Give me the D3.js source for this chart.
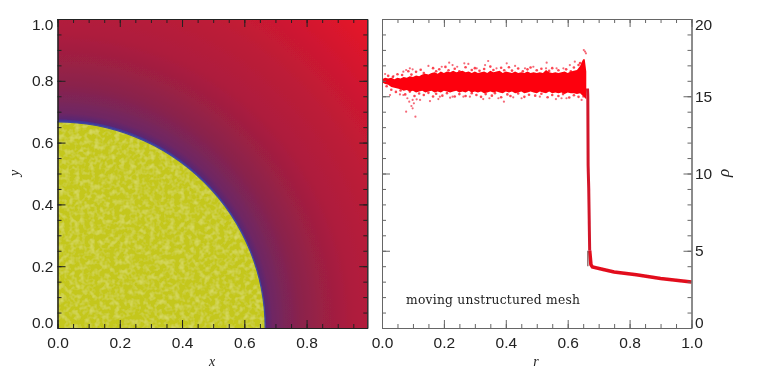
<!DOCTYPE html>
<html>
<head>
<meta charset="utf-8">
<script src="https://cdn.jsdelivr.net/npm/d3@7"></script>
<style>
  html, body { margin: 0; background: #fff; }
  svg { display: block; }
  text { font-family: 'Liberation Sans', sans-serif; fill: #222; }
  .serif { font-family: 'Liberation Serif', serif; }
</style>
</head>
<body>
<div id="chart"></div>
<script>
// density map: colour by radius
const shockRadius = 0.667
const mapRadius = [0.667, 0.671, 0.69, 0.73, 0.78, 0.85, 0.95, 1.1, 1.3, 1.41]
const mapColor = ['#40389a', '#5a2672', '#6e2664', '#7b2558', '#8a234c', '#9a2044', '#ae1d3d', '#bd1b37', '#d8172d', '#e8142a']

// dense part of the scatter
const bandR = [0, 0.01, 0.02, 0.03, 0.04, 0.05, 0.06, 0.07, 0.08, 0.09, 0.1, 0.11, 0.12, 0.13, 0.14, 0.15, 0.16, 0.17, 0.18, 0.19, 0.2, 0.21, 0.22, 0.23, 0.24, 0.25, 0.26, 0.27, 0.28, 0.29, 0.3, 0.31, 0.32, 0.33, 0.34, 0.35, 0.36, 0.37, 0.38, 0.39, 0.4, 0.41, 0.42, 0.43, 0.44, 0.45, 0.46, 0.47, 0.48, 0.49, 0.5, 0.51, 0.52, 0.53, 0.54, 0.55, 0.56, 0.57, 0.58, 0.59, 0.6, 0.61, 0.62, 0.63, 0.64, 0.645, 0.65, 0.655, 0.66]
const bandTop = [16.1, 16.2, 16.15, 16.2, 16.1, 16.2, 16.15, 16.25, 16.2, 16.3, 16.25, 16.35, 16.3, 16.4, 16.45, 16.4, 16.5, 16.55, 16.45, 16.6, 16.5, 16.6, 16.55, 16.65, 16.55, 16.6, 16.65, 16.55, 16.6, 16.5, 16.6, 16.5, 16.55, 16.6, 16.5, 16.65, 16.55, 16.6, 16.65, 16.5, 16.6, 16.55, 16.5, 16.6, 16.5, 16.55, 16.5, 16.6, 16.5, 16.55, 16.5, 16.55, 16.5, 16.7, 16.55, 16.5, 16.55, 16.5, 16.55, 16.6, 16.5, 16.6, 16.65, 16.7, 16.95, 17.2, 17.4, 17.4, 16.6]
const bandBottom = [15.9, 15.8, 15.75, 15.6, 15.55, 15.5, 15.45, 15.35, 15.4, 15.3, 15.35, 15.25, 15.3, 15.35, 15.25, 15.3, 15.35, 15.25, 15.3, 15.25, 15.35, 15.3, 15.25, 15.3, 15.35, 15.25, 15.3, 15.25, 15.35, 15.25, 15.3, 15.25, 15.3, 15.2, 15.25, 15.3, 15.25, 15.3, 15.25, 15.2, 15.3, 15.25, 15.3, 15.2, 15.25, 15.3, 15.2, 15.25, 15.3, 15.25, 15.2, 15.3, 15.25, 15.2, 15.3, 15.2, 15.25, 15.2, 15.25, 15.15, 15.25, 15.2, 15.2, 15.15, 15.2, 15.1, 15.0, 14.9, 14.8]

// single points along the edges of the band
const edgeR = [0.02, 0.035, 0.05, 0.065, 0.085, 0.095, 0.11, 0.125, 0.135, 0.165, 0.175, 0.185, 0.205, 0.215, 0.235, 0.25, 0.27, 0.29, 0.3, 0.315, 0.33, 0.35, 0.36, 0.385, 0.395, 0.41, 0.42, 0.44, 0.455, 0.47, 0.48, 0.5, 0.515, 0.54, 0.55, 0.57, 0.595, 0.61, 0.62, 0.635, 0.64, 0.015, 0.03, 0.045, 0.06, 0.075, 0.09, 0.105, 0.12, 0.135, 0.15, 0.165, 0.175, 0.195, 0.21, 0.235, 0.25, 0.27, 0.29, 0.305, 0.32, 0.335, 0.355, 0.365, 0.385, 0.405, 0.415, 0.44, 0.46, 0.475, 0.495, 0.515, 0.535, 0.55, 0.57, 0.585, 0.605, 0.62, 0.635]
const edgeRho = [16.32, 16.25, 16.42, 16.38, 16.62, 16.4, 16.58, 16.72, 16.5, 16.82, 16.62, 16.75, 16.9, 16.68, 16.78, 16.62, 16.88, 16.7, 16.82, 16.65, 16.76, 16.92, 16.7, 16.84, 16.68, 16.88, 16.66, 16.8, 16.62, 16.74, 16.86, 16.68, 16.78, 16.64, 16.82, 16.68, 16.74, 16.62, 16.86, 17.02, 17.15, 15.65, 15.42, 15.28, 15.38, 15.12, 15.3, 15.02, 15.18, 15.08, 15.22, 14.98, 15.16, 15.04, 15.2, 14.98, 15.14, 15.02, 15.2, 15.08, 14.96, 15.14, 15.04, 15.2, 14.94, 15.12, 15.02, 15.18, 14.96, 15.1, 15.04, 15.16, 14.94, 15.08, 15.02, 15.14, 14.92, 15.06, 14.96]

// loose points further out
const looseR = [0.078, 0.108, 0.099, 0.095, 0.103, 0.088, 0.099, 0.112, 0.082, 0.123, 0.069, 0.026, 0.058, 0.155, 0.182, 0.22, 0.228, 0.327, 0.347, 0.394, 0.376, 0.424, 0.451, 0.51, 0.562, 0.58, 0.596, 0.645, 0.65, 0.284, 0.263, 0.187, 0.656, 0.652, 0.659, 0.15, 0.193, 0.217, 0.228, 0.266, 0.279, 0.243, 0.343, 0.333, 0.403, 0.43, 0.462, 0.489, 0.532, 0.53, 0.607, 0.623, 0.09, 0.078, 0.099, 0.069, 0.01, 0.037, 0.306, 0.37, 0.564, 0.586]
const looseRho = [14.0, 13.68, 14.22, 14.37, 14.54, 14.65, 14.76, 14.8, 14.87, 14.76, 15.08, 15.08, 15.12, 14.69, 14.82, 14.91, 14.97, 14.82, 14.87, 14.65, 14.87, 14.93, 14.87, 14.97, 14.82, 14.87, 14.87, 14.76, 14.97, 14.97, 14.97, 14.97, 17.89, 17.99, 17.78, 16.96, 16.91, 17.17, 17.02, 17.13, 17.09, 16.91, 17.28, 17.02, 17.13, 16.96, 16.81, 16.91, 17.17, 16.81, 17.02, 17.24, 16.81, 16.7, 16.74, 16.59, 16.44, 16.31, 16.81, 16.81, 16.81, 16.81]

// the shock and the shell behind it
const shockR = [0.664, 0.665, 0.666, 0.668, 0.671]
const shockRho = [15.5, 15, 10.5, 9, 5]
const shellR = [0.671, 0.675, 0.68, 0.715, 0.75, 0.822, 0.9, 1.0]
const shellRho = [5, 4.1, 3.95, 3.78, 3.62, 3.45, 3.2, 2.98]

const exactR = [0.665, 0.665]
const exactRho = [5, 4]

const mapTicks = [0, 0.2, 0.4, 0.6, 0.8, 1]
const mapMinor = d3.range(0, 21).map(d => d / 20)
const rhoTicks = [0, 5, 10, 15, 20]
const rhoMinor = d3.range(0, 21)

const svg = d3
  .select('#chart')
  .append('svg')
  .attr('width', 771)
  .attr('height', 386)

const defs = svg.append('defs')

const soft = defs.append('filter').attr('id', 'soft')
soft.append('feGaussianBlur').attr('stdDeviation', 0.4)

// mottled look of the yellow interior
const mottle = defs
  .append('filter')
  .attr('id', 'mottle')
  .attr('x', 0)
  .attr('y', 0)
  .attr('width', 1)
  .attr('height', 1)
mottle
  .append('feTurbulence')
  .attr('type', 'fractalNoise')
  .attr('baseFrequency', 0.2)
  .attr('numOctaves', 2)
  .attr('seed', 4)
  .attr('result', 'noise')
mottle
  .append('feColorMatrix')
  .attr('in', 'noise')
  .attr('type', 'matrix')
  .attr('values', '0 0 0 0 0.83  0 0 0 0 0.84  0 0 0 0 0.26  1.0 0 0 0 -0.42')
  .attr('result', 'spots')
mottle
  .append('feComposite')
  .attr('in', 'spots')
  .attr('in2', 'SourceAlpha')
  .attr('operator', 'in')
  .attr('result', 'clipped')
const mottleMerge = mottle.append('feMerge')
mottleMerge.append('feMergeNode').attr('in', 'SourceGraphic')
mottleMerge.append('feMergeNode').attr('in', 'clipped')

const chart = svg.append('g').attr('filter', 'url(#soft)')

// ---- left panel
const x = d3.scaleLinear().domain([0, 0.995]).range([57.5, 367.3])
const y = d3.scaleLinear().domain([0, 1]).range([328, 19])

const gradient = defs
  .append('radialGradient')
  .attr('id', 'density')
  .attr('gradientUnits', 'userSpaceOnUse')
  .attr('cx', x(0))
  .attr('cy', y(0))
  .attr('r', x(1.41) - x(0))

gradient
  .selectAll('stop')
  .data(mapRadius)
  .enter()
  .append('stop')
  .attr('offset', d => d / 1.41)
  .attr('stop-color', (d, i) => mapColor[i])

defs
  .append('clipPath')
  .attr('id', 'mapClip')
  .append('rect')
  .attr('x', x(0))
  .attr('y', y(1))
  .attr('width', x(0.995) - x(0))
  .attr('height', y(0) - y(1))

const map = chart.append('g').attr('clip-path', 'url(#mapClip)')

map
  .append('rect')
  .attr('x', x(0))
  .attr('y', y(1))
  .attr('width', x(0.995) - x(0))
  .attr('height', y(0) - y(1))
  .attr('fill', 'url(#density)')

map
  .append('ellipse')
  .attr('cx', x(0))
  .attr('cy', y(0))
  .attr('rx', x(shockRadius) - x(0))
  .attr('ry', y(0) - y(shockRadius))
  .attr('fill', '#c4c71f')
  .attr('filter', 'url(#mottle)')

map
  .append('ellipse')
  .attr('cx', x(0))
  .attr('cy', y(0))
  .attr('rx', x(shockRadius) - x(0))
  .attr('ry', y(0) - y(shockRadius))
  .attr('fill', 'none')
  .attr('stroke', '#4048a0')
  .attr('stroke-width', 1.2)

// ---- right panel
const r = d3.scaleLinear().domain([0, 1]).range([382, 691.5])
const rho = d3.scaleLinear().domain([0, 20]).range([328, 19])

const band = d3
  .area()
  .x(d => r(d))
  .y0((d, i) => rho(bandBottom[i]))
  .y1((d, i) => rho(bandTop[i]))

const pathLine = d3
  .line()
  .x(d => r(d[0]))
  .y(d => rho(d[1]))

chart
  .selectAll('.loose')
  .data(d3.zip(looseR, looseRho))
  .enter()
  .append('circle')
  .attr('class', 'loose')
  .attr('cx', d => r(d[0]))
  .attr('cy', d => rho(d[1]))
  .attr('r', 1.1)
  .attr('fill', '#f2374a')
  .attr('opacity', 0.75)

chart
  .selectAll('.edge')
  .data(d3.zip(edgeR, edgeRho))
  .enter()
  .append('circle')
  .attr('class', 'edge')
  .attr('cx', d => r(d[0]))
  .attr('cy', d => rho(d[1]))
  .attr('r', 1.3)
  .attr('fill', '#fb1828')
  .attr('opacity', 0.8)

chart
  .append('path')
  .datum(bandR)
  .attr('d', band)
  .attr('fill', '#fd0208')

chart
  .append('path')
  .datum(d3.zip(shockR, shockRho))
  .attr('d', pathLine)
  .attr('fill', 'none')
  .attr('stroke', '#d2162a')
  .attr('stroke-width', 3)

chart
  .append('path')
  .datum(d3.zip(shellR, shellRho))
  .attr('d', pathLine)
  .attr('fill', 'none')
  .attr('stroke', '#e20c1c')
  .attr('stroke-width', 3.6)

chart
  .append('path')
  .datum(d3.zip(exactR, exactRho))
  .attr('d', pathLine)
  .attr('fill', 'none')
  .attr('stroke', '#8a6a6a')
  .attr('stroke-width', 1.4)

// ---- frames and ticks
function addAxis(panel, axis, scale, at, values, size, color) {
  const g = panel
    .append('g')
    .attr('transform', at)
    .call(
      axis(scale)
        .tickValues(values)
        .tickSize(size)
        .tickSizeOuter(0)
        .tickFormat('')
    )
  g.select('.domain').attr('stroke', color)
  g.selectAll('.tick line').attr('stroke', color)
  return g
}

function addFrame(panel, xs, ys, xMajor, xMinor, yMajor, yMinor, color) {
  const left = 'translate(' + xs.range()[0] + ',0)'
  const right = 'translate(' + xs.range()[1] + ',0)'
  const top = 'translate(0,' + ys.range()[1] + ')'
  const bottom = 'translate(0,' + ys.range()[0] + ')'
  const xIn = xMinor.filter(d => d <= xs.domain()[1])
  const xOn = xMajor.filter(d => d <= xs.domain()[1])

  addAxis(panel, d3.axisBottom, xs, top, xIn, 4, color)
  addAxis(panel, d3.axisBottom, xs, top, xOn, 8, color)
  addAxis(panel, d3.axisTop, xs, bottom, xIn, 4, color)
  addAxis(panel, d3.axisTop, xs, bottom, xOn, 8, color)
  addAxis(panel, d3.axisRight, ys, left, yMinor, 4, color)
  addAxis(panel, d3.axisRight, ys, left, yMajor, 8, color)
  addAxis(panel, d3.axisLeft, ys, right, yMinor, 4, color)
  addAxis(panel, d3.axisLeft, ys, right, yMajor, 8, color)
}

addFrame(chart, x, y, mapTicks, mapMinor, mapTicks, mapMinor, '#222')
addFrame(chart, r, rho, mapTicks, mapMinor, rhoTicks, rhoMinor, '#666')

// labels: IDL style, the end labels are pulled inside the axis range
function endLabels(g, first, last) {
  g.selectAll('.tick')
    .filter(d => d === first)
    .select('text')
    .attr('dy', '-0.05em')
  g.selectAll('.tick')
    .filter(d => d === last)
    .select('text')
    .attr('dy', '0.65em')
}

function styleLabels(g) {
  g.select('.domain').remove()
  g.selectAll('text')
    .attr('font-family', null)
    .attr('font-size', 15.5)
    .attr('fill', '#222')
}

const fixed1 = d3.format('.1f')

function bottomLabels(xs, values) {
  const g = chart
    .append('g')
    .attr('transform', 'translate(0,' + 334 + ')')
    .call(
      d3
        .axisBottom(xs)
        .tickValues(values)
        .tickSize(0)
        .tickPadding(3)
        .tickFormat(fixed1)
    )
  styleLabels(g)
}

bottomLabels(x, mapTicks.filter(d => d < 1))
bottomLabels(r, mapTicks)

const yLabels = chart
  .append('g')
  .attr('transform', 'translate(' + 53.5 + ',0)')
  .call(
    d3
      .axisLeft(y)
      .tickValues(mapTicks)
      .tickSize(0)
      .tickPadding(0)
      .tickFormat(fixed1)
  )
styleLabels(yLabels)
endLabels(yLabels, 0, 1)

const rhoLabels = chart
  .append('g')
  .attr('transform', 'translate(' + 695 + ',0)')
  .call(
    d3
      .axisRight(rho)
      .tickValues(rhoTicks)
      .tickSize(0)
      .tickPadding(0)
  )
styleLabels(rhoLabels)
endLabels(rhoLabels, 0, 20)

// axis titles
function title(label, px, py, turn, size) {
  chart
    .append('text')
    .attr('class', 'serif')
    .attr('transform', 'translate(' + px + ',' + py + ') rotate(' + turn + ')')
    .attr('text-anchor', 'middle')
    .attr('font-size', size)
    .attr('font-style', 'italic')
    .text(label)
}

title('x', 212, 366, 0, 14)
title('r', 536, 366, 0, 14)
title('y', 19, 173, -90, 14)
title('ρ', 729, 173, -90, 17)

chart
  .append('text')
  .attr('x', 406)
  .attr('y', 304)
  .style('font-family', "'DejaVu Serif', serif")
  .attr('font-size', 12.3)
  .attr('textLength', 174)
  .text('moving unstructured mesh')
</script>
</body>
</html>
